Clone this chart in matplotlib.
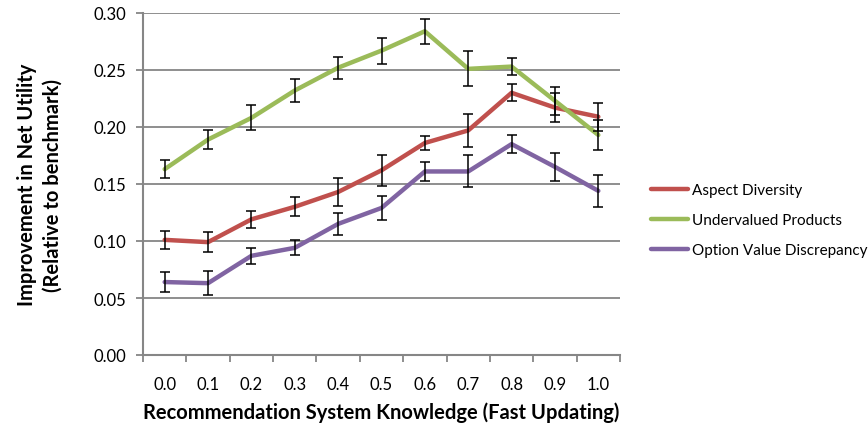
import matplotlib
matplotlib.use("Agg")
import matplotlib.pyplot as plt
import numpy as np

categories = ["0.0", "0.1", "0.2", "0.3", "0.4", "0.5", "0.6", "0.7", "0.8", "0.9", "1.0"]

aspect_diversity = [0.101, 0.099, 0.119, 0.130, 0.143, 0.162, 0.186, 0.197, 0.230, 0.217, 0.209]
aspect_err = [0.0079, 0.0089, 0.0075, 0.0085, 0.012, 0.0135, 0.0063, 0.0142, 0.0073, 0.0124, 0.0123]

undervalued = [0.163, 0.189, 0.208, 0.232, 0.252, 0.267, 0.284, 0.251, 0.253, 0.223, 0.193]
undervalued_err = [0.0078, 0.0083, 0.011, 0.0098, 0.0095, 0.0114, 0.0108, 0.0154, 0.0078, 0.0124, 0.0129]

option_value = [0.064, 0.063, 0.087, 0.094, 0.115, 0.129, 0.161, 0.161, 0.185, 0.165, 0.144]
option_err = [0.009, 0.0105, 0.0072, 0.0066, 0.0096, 0.0102, 0.0083, 0.014, 0.008, 0.0121, 0.0139]

yticks = [0.00, 0.05, 0.10, 0.15, 0.20, 0.25, 0.30]

plt.rcParams['font.family'] = ['Lato', 'DejaVu Sans']

fig = plt.figure(figsize=(8.68, 4.27), dpi=100)
ax = fig.add_axes([143/868, 1-356/427, (620-143)/868, (356-14)/427])

x = np.arange(len(categories))
grid_col = "#868686"

for yv in yticks[1:]:
    ax.axhline(yv, color=grid_col, lw=1.3, zorder=1)

series = [
    ("Aspect Diversity", aspect_diversity, aspect_err, "#C0504D"),
    ("Undervalued Products", undervalued, undervalued_err, "#9BBB59"),
    ("Option Value Discrepancy", option_value, option_err, "#8064A2"),
]
handles = []
for name, vals, err, col in series:
    h, = ax.plot(x, vals, color=col, lw=3.2, solid_capstyle='round', zorder=3, label=name)
    handles.append(h)
for name, vals, err, col in series:
    ax.errorbar(x, vals, yerr=err, fmt='none', ecolor='black', elinewidth=1.1,
                capsize=3.5, capthick=1.1, zorder=4)

ax.set_xlim(-0.5, len(categories) - 0.5)
ax.set_ylim(0, 0.30)
ax.set_yticks(yticks)
ax.set_yticklabels([f"{v:.2f}" for v in yticks], fontsize=12)
ax.set_xticks(x)
ax.set_xticklabels(categories, fontsize=12)
ax.set_xticks(np.arange(-0.5, len(categories), 1.0), minor=True)
ax.tick_params(axis='x', which='major', length=0, pad=15)
ax.tick_params(axis='x', which='minor', length=5, color=grid_col, width=1.3, direction='out')
ax.tick_params(axis='y', length=5, color=grid_col, width=1.3, direction='out', pad=7)

for s in ['top', 'right']:
    ax.spines[s].set_visible(False)
for s in ['left', 'bottom']:
    ax.spines[s].set_color(grid_col)
    ax.spines[s].set_linewidth(1.5)

ax.set_xlabel("Recommendation System Knowledge (Fast Updating)", fontsize=14.5,
              fontweight='bold', labelpad=7)
ax.set_ylabel("Improvement in Net Utility\n(Relative to benchmark)", fontsize=14.5,
              fontweight='bold', labelpad=22, linespacing=1.4)

fig.legend(handles=handles, loc='upper left', bbox_to_anchor=(645/868, 1-178/427),
           frameon=False, fontsize=11, handlelength=2.4, handletextpad=0.25,
           labelspacing=1.05, borderaxespad=0)

fig.savefig("out.png", dpi=100)
